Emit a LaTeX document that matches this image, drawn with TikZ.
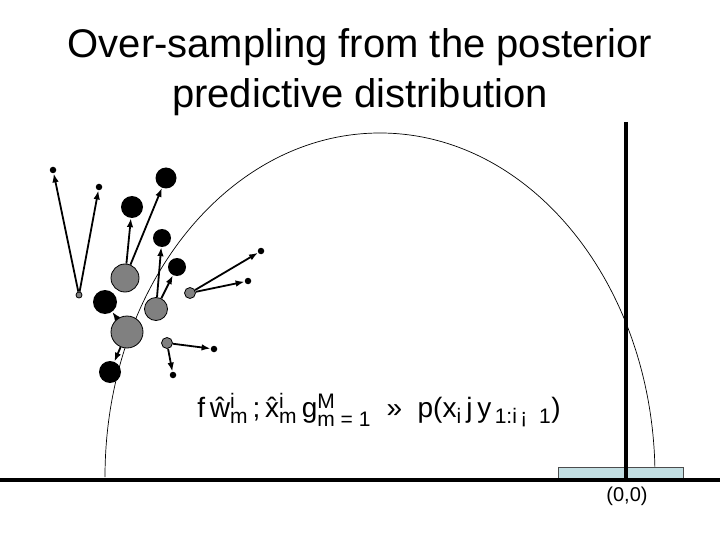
\documentclass[tikz,border=0pt]{standalone}
\usepackage{fontspec}
\setmainfont{Liberation Sans}
\usepackage{amsmath}
\DeclareMathSizes{28}{28}{21}{16}
\usetikzlibrary{arrows.meta}
\definecolor{pgray}{HTML}{808080}
\definecolor{boxblue}{HTML}{C2DEE2}
\tikzset{
  gpart/.style={
    circle, draw=black, line width=0.8pt, fill=pgray, inner sep=0pt
  },
  bpart/.style={circle, draw=none, fill=black, inner sep=0pt},
  enddot/.style={circle, draw=none, fill=black, inner sep=0pt, minimum size=6.5pt},
  arr/.style={-{Latex[length=9pt,width=6.5pt]}, line width=1.8pt, black},
  axis/.style={line width=4pt, black}
}

\begin{document}
\begin{tikzpicture}[x=1pt, y=-1pt]
\useasboundingbox (0,0) rectangle (720,540);

% ── Title ─────────────────────────────────────────────────────────
\node[font=\fontsize{40}{50}\selectfont, align=center] (title) at (360,72)
  {Over-sampling from the posterior\\predictive distribution};

% ── Predictive density curve (behind everything) ──────────────────
\draw[line width=0.7pt] (105,477)
  arc[start angle=180, end angle=0, x radius=275pt, y radius=344pt];

% ── Ground line, box at the origin, vertical marker ───────────────
\draw[draw=black!70, line width=0.6pt, fill=boxblue] (558,467) rectangle (683,480);
\draw[axis] (0,480) -- (720,480);
\draw[axis] (626,122) -- (626,480);
\node[font=\fontsize{20}{22}\selectfont] (origin) at (627,496) {(0,0)};

% ── Parent particles (gray) ───────────────────────────────────────
\node[gpart, minimum size=6pt]  (g1) at (79,295)  {};
\node[gpart, minimum size=28pt] (gA) at (125,278) {};
\node[gpart, minimum size=23pt] (gB) at (156,309) {};
\node[gpart, minimum size=32pt] (gC) at (127,332) {};
\node[gpart, minimum size=11pt] (gD) at (190,293) {};
\node[gpart, minimum size=11pt] (gE) at (167,343) {};

% ── Offspring (black) ─────────────────────────────────────────────
\node[bpart, minimum size=22pt] (bA1) at (132,207) {};
\node[bpart, minimum size=21pt] (bA2) at (166,178) {};
\node[bpart, minimum size=18pt] (bB1) at (162,238) {};
\node[bpart, minimum size=18pt] (bB2) at (177,267) {};
\node[bpart, minimum size=24pt] (bC1) at (105,302) {};
\node[bpart, minimum size=22pt] (bC2) at (110,372) {};
\node[enddot] (t1) at (53,170)  {};
\node[enddot] (t2) at (99,187)  {};
\node[enddot] (t3) at (261,251) {};
\node[enddot] (t4) at (248,281) {};
\node[enddot] (t5) at (214,349) {};
\node[enddot] (t6) at (173,375) {};

% ── Moves ─────────────────────────────────────────────────────────
\draw[arr] (g1) -- (t1);
\draw[arr] (g1) -- (t2);
\draw[arr] (gA) -- (bA1);
\draw[arr] (gA) -- (bA2);
\draw[arr] (gB) -- (bB1);
\draw[arr] (gB) -- (bB2);
\draw[arr] (gC) -- (bC1);
\draw[arr] (gC) -- (bC2);
\draw[arr] (gD) -- (t3);
\draw[arr] (gD) -- (t4);
\draw[arr] (gE) -- (t5);
\draw[arr] (gE) -- (t6);

% ── Sample set ────────────────────────────────────────────────────
\node[font=\fontsize{28}{32}\selectfont] (pred) at (379,410)
  {f\,\^{w}$^{\text{i}}_{\text{m}}$\,;\,\^{x}$^{\text{i}}_{\text{m}}$\,g$^{\text{M}}_{\text{m = 1}}$\ \ »\ \ p(x$_{\text{i}}$\,j\,y$_{\text{\,1:i\,¡\ \ 1}}$)};

\end{tikzpicture}
\end{document}
